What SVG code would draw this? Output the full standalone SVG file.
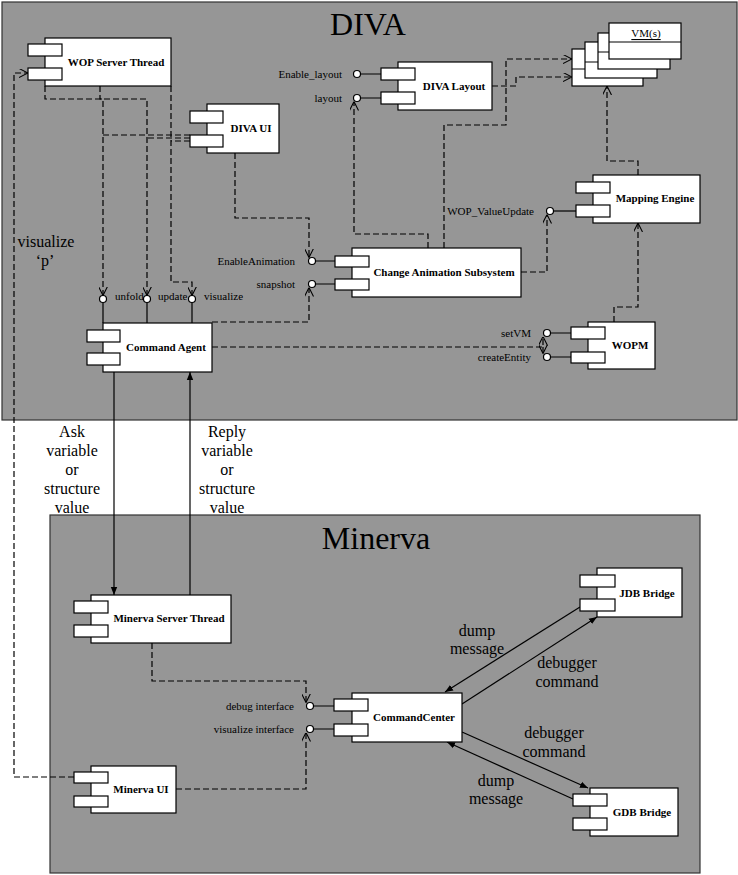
<svg xmlns="http://www.w3.org/2000/svg" width="738" height="875" viewBox="0 0 738 875">
<style>
.pkg{fill:#969696;stroke:#333;stroke-width:1.2}
.title{font-family:"Liberation Serif",serif;font-size:32px;fill:#000;text-anchor:middle}
.body{fill:#fff;stroke:#000;stroke-width:1.2}
.port{fill:#fff;stroke:#000;stroke-width:1.2}
.name{font-family:"Liberation Serif",serif;font-size:11px;font-weight:bold;fill:#000;text-anchor:middle;dominant-baseline:central}
.lab{font-family:"Liberation Serif",serif;font-size:11px;fill:#000;dominant-baseline:central}
.big{font-family:"Liberation Serif",serif;font-size:16px;fill:#000;text-anchor:middle;dominant-baseline:central}
.lol{fill:#fff;stroke:#000;stroke-width:1.2}
.sl{stroke:#000;stroke-width:1.2;fill:none}
.dash{stroke:#000;stroke-width:1.2;fill:none;stroke-dasharray:6,3}
.dep{marker-end:url(#open)}
.msg{stroke:#000;stroke-width:1.2;fill:none;marker-end:url(#fill)}
</style>
<defs>
<marker id="open" viewBox="0 0 10 10" refX="10" refY="5" markerWidth="9" markerHeight="9" markerUnits="userSpaceOnUse" orient="auto">
<path d="M0,0 L10,5 L0,10" fill="none" stroke="#000" stroke-width="1.2" stroke-dasharray="none"/>
</marker>
<marker id="fill" viewBox="0 0 10 10" refX="10" refY="5" markerWidth="8" markerHeight="8" markerUnits="userSpaceOnUse" orient="auto">
<path d="M0,1 L10,5 L0,9 z" fill="#000" stroke="none"/>
</marker>
</defs>
<rect width="738" height="875" fill="#fff"/>
<g id="diva-package">
<rect class="pkg" x="2" y="2" width="735" height="418"/>
<text class="title" x="368" y="35">DIVA</text>
</g>
<g id="minerva-package">
<rect class="pkg" x="50" y="515" width="650" height="358"/>
<text class="title" x="376" y="549">Minerva</text>
</g>

<g id="connectors">
<path class="dash dep" d="M100,86 V99 H103 V295.5"/>
<path class="dash dep" d="M45,86 V99 H147 V295.5"/>
<path class="dash dep" d="M171,86 V282 H192 V295.5"/>
<path class="dash" d="M190,135 H103"/>
<path class="dash" d="M190,138 H147"/>
<path class="dash" d="M190,141 H171"/>
<path class="dash dep" d="M235,153 V218 H309 V257.5"/>
<path class="dash dep" d="M212,322 H309 V287.5"/>
<path class="dash dep" d="M212,347 H543 V336.5"/>
<path class="dash dep" d="M543,347 V353.5"/>
<path class="dash dep" d="M428,248 V234 H354 V101.5"/>
<path class="dash dep" d="M444,248 V125 H506 V59 H572"/>
<path class="dash dep" d="M492,86 H516 V77 H572"/>
<path class="dash dep" d="M521,272 H547 V214.5"/>
<path class="dash dep" d="M638,175 V161 H607 V86"/>
<path class="dash dep" d="M614,322 V307 H638 V223"/>
<path class="msg" d="M114,372 V595"/>
<path class="msg" d="M190,595 V372"/>
<path class="dash dep" d="M74,777 H14 V73 H28"/>
<path class="dash dep" d="M152,643 V681 H306 V702.5"/>
<path class="dash dep" d="M176,789 H306 V732.5"/>
<path class="msg" d="M580,607 L445,692"/>
<path class="msg" d="M462,704 L597,617"/>
<path class="msg" d="M462,732 L588,788"/>
<path class="msg" d="M573,799 L447,742"/>
<text class="big" x="46" y="241">visualize</text>
<text class="big" x="45" y="260">‘p’</text>
<text class="big" x="72" y="431">Ask</text>
<text class="big" x="72" y="450">variable</text>
<text class="big" x="72" y="469">or</text>
<text class="big" x="72" y="488">structure</text>
<text class="big" x="72" y="507">value</text>
<text class="big" x="227" y="431">Reply</text>
<text class="big" x="227" y="450">variable</text>
<text class="big" x="227" y="469">or</text>
<text class="big" x="227" y="488">structure</text>
<text class="big" x="227" y="507">value</text>
<text class="big" x="477" y="630">dump</text>
<text class="big" x="477" y="648">message</text>
<text class="big" x="567" y="662">debugger</text>
<text class="big" x="567" y="681">command</text>
<text class="big" x="554" y="732">debugger</text>
<text class="big" x="554" y="751">command</text>
<text class="big" x="496" y="780">dump</text>
<text class="big" x="496" y="798">message</text>
</g>

<g id="wop-server-thread">
<rect class="body" x="45" y="38" width="126" height="48"/>
<rect class="port" x="28" y="44" width="34" height="12"/>
<rect class="port" x="28" y="68" width="34" height="12"/>
<text class="name" x="116" y="62">WOP Server Thread</text>
</g>

<g id="diva-ui">
<rect class="body" x="207" y="104" width="72" height="49"/>
<rect class="port" x="190" y="111" width="33" height="12"/>
<rect class="port" x="190" y="135" width="33" height="12"/>
<text class="name" x="251" y="128">DIVA UI</text>
</g>

<g id="diva-layout">
<path class="sl" d="M360.5,74 H381 M360.5,98 H381"/>
<circle class="lol" cx="357" cy="74" r="3.5"/>
<circle class="lol" cx="357" cy="98" r="3.5"/>
<text class="lab" x="342" y="74" text-anchor="end">Enable_layout</text>
<text class="lab" x="342" y="98" text-anchor="end">layout</text>
<rect class="body" x="398" y="62" width="94" height="48"/>
<rect class="port" x="381" y="68" width="34" height="12"/>
<rect class="port" x="381" y="92" width="34" height="12"/>
<text class="name" x="454" y="86">DIVA Layout</text>
</g>

<g id="vms">
<rect class="body" x="572" y="49" width="71" height="37"/>
<path class="sl" d="M572,69 H643"/>
<rect class="body" x="585" y="42" width="72" height="36"/>
<path class="sl" d="M585,62 H657"/>
<rect class="body" x="598" y="33" width="72" height="36"/>
<path class="sl" d="M598,52 H670"/>
<rect class="body" x="609" y="23" width="72" height="36"/>
<path class="sl" d="M609,42 H681"/>
<text x="646" y="33" font-family="Liberation Serif, serif" font-size="11" text-anchor="middle" dominant-baseline="central" text-decoration="underline">VM(s)</text>
</g>

<g id="mapping-engine">
<path class="sl" d="M553.5,211 H576"/>
<circle class="lol" cx="550" cy="211" r="3.5"/>
<text class="lab" x="534" y="211" text-anchor="end">WOP_ValueUpdate</text>
<rect class="body" x="593" y="175" width="107" height="48"/>
<rect class="port" x="576" y="182" width="34" height="11"/>
<rect class="port" x="576" y="205" width="34" height="12"/>
<text class="name" x="655" y="198">Mapping Engine</text>
</g>

<g id="change-animation-subsystem">
<path class="sl" d="M315.5,261 H335 M315.5,284 H335"/>
<circle class="lol" cx="312" cy="261" r="3.5"/>
<circle class="lol" cx="312" cy="284" r="3.5"/>
<text class="lab" x="295" y="261" text-anchor="end">EnableAnimation</text>
<text class="lab" x="295" y="284" text-anchor="end">snapshot</text>
<rect class="body" x="352" y="248" width="169" height="49"/>
<rect class="port" x="335" y="256" width="34" height="11"/>
<rect class="port" x="335" y="279" width="34" height="11"/>
<text class="name" x="444" y="272">Change Animation Subsystem</text>
</g>

<g id="command-agent">
<path class="sl" d="M103,302.5 V323 M147,302.5 V323 M192,302.5 V323"/>
<circle class="lol" cx="103" cy="299" r="3.5"/>
<circle class="lol" cx="147" cy="299" r="3.5"/>
<circle class="lol" cx="192" cy="299" r="3.5"/>
<text class="lab" x="115" y="296">unfold</text>
<text class="lab" x="158" y="296">update</text>
<text class="lab" x="204" y="296">visualize</text>
<rect class="body" x="103" y="323" width="109" height="49"/>
<rect class="port" x="87" y="330" width="33" height="12"/>
<rect class="port" x="87" y="353" width="33" height="12"/>
<text class="name" x="166" y="347">Command Agent</text>
</g>

<g id="wopm">
<path class="sl" d="M550.5,333 H571 M550.5,357 H571"/>
<circle class="lol" cx="547" cy="333" r="3.5"/>
<circle class="lol" cx="547" cy="357" r="3.5"/>
<text class="lab" x="531" y="333" text-anchor="end">setVM</text>
<text class="lab" x="531" y="357" text-anchor="end">createEntity</text>
<rect class="body" x="588" y="322" width="67" height="47"/>
<rect class="port" x="571" y="327" width="34" height="12"/>
<rect class="port" x="571" y="352" width="34" height="11"/>
<text class="name" x="630" y="345">WOPM</text>
</g>

<g id="minerva-server-thread">
<rect class="body" x="91" y="595" width="140" height="48"/>
<rect class="port" x="74" y="601" width="34" height="12"/>
<rect class="port" x="74" y="625" width="34" height="12"/>
<text class="name" x="169" y="618">Minerva Server Thread</text>
</g>

<g id="minerva-ui">
<rect class="body" x="91" y="766" width="85" height="47"/>
<rect class="port" x="74" y="772" width="34" height="11"/>
<rect class="port" x="74" y="796" width="34" height="11"/>
<text class="name" x="141" y="789">Minerva UI</text>
</g>

<g id="command-center">
<path class="sl" d="M313.5,706 H334 M313.5,729 H334"/>
<circle class="lol" cx="310" cy="706" r="3.5"/>
<circle class="lol" cx="310" cy="729" r="3.5"/>
<text class="lab" x="294" y="706" text-anchor="end">debug interface</text>
<text class="lab" x="294" y="729" text-anchor="end">visualize interface</text>
<rect class="body" x="352" y="693" width="110" height="49"/>
<rect class="port" x="334" y="699" width="34" height="12"/>
<rect class="port" x="334" y="724" width="34" height="12"/>
<text class="name" x="414" y="717">CommandCenter</text>
</g>

<g id="jdb-bridge">
<rect class="body" x="597" y="568" width="85" height="49"/>
<rect class="port" x="580" y="575" width="35" height="12"/>
<rect class="port" x="580" y="599" width="35" height="12"/>
<text class="name" x="647" y="593">JDB Bridge</text>
</g>

<g id="gdb-bridge">
<rect class="body" x="590" y="788" width="88" height="48"/>
<rect class="port" x="573" y="794" width="34" height="12"/>
<rect class="port" x="573" y="818" width="34" height="12"/>
<text class="name" x="642" y="812">GDB Bridge</text>
</g>
</svg>
